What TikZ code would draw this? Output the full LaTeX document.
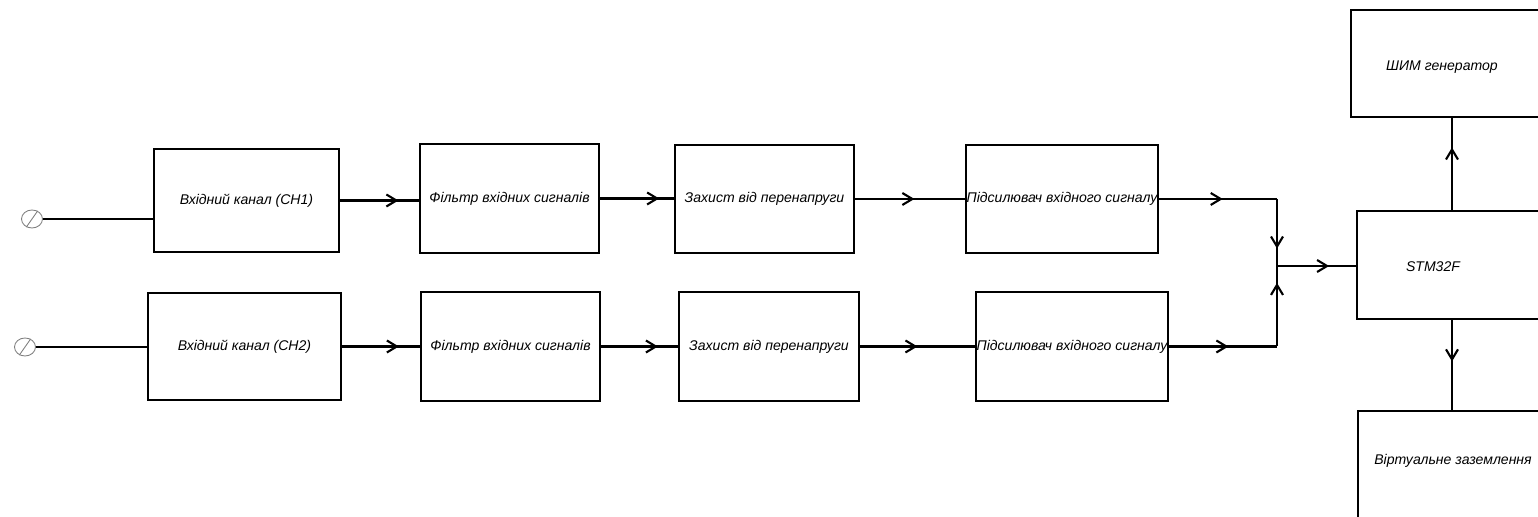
\documentclass[tikz,border=0pt]{standalone}
\usepackage{fontspec}
\setmainfont{Liberation Sans}
\usetikzlibrary{arrows.meta,decorations.markings,shapes.geometric}

\tikzset{
  blok/.style={draw, line width=1.2pt, inner sep=0pt, font=\itshape\fontsize{8}{9.6}\selectfont},
  napys/.style={font=\itshape\fontsize{8}{9.6}\selectfont},
  wire/.style={line width=1.2pt},
  flow/.style={line width=1.2pt, postaction={decorate},
    decoration={markings, mark=at position #1 with {\arrow{Straight Barb[length=2mm,width=2.4mm,line width=1.2pt]}}}},
  flow/.default=0.75,
  klema/.style={ellipse, draw=gray, line width=0.5pt, minimum width=0.42cm, minimum height=0.36cm, inner sep=0pt}
}

\begin{document}
\begin{tikzpicture}
  \useasboundingbox (0,0) rectangle (30.76,10.34);

  % входи
  \node[klema] (in1) at (0.64,5.96) {};
  \draw[gray, line width=0.5pt] (in1.235) -- (in1.55);
  \node[klema] (in2) at (0.50,3.40) {};
  \draw[gray, line width=0.5pt] (in2.235) -- (in2.55);

  % канал 1
  \node[blok, minimum width=3.70cm, minimum height=2.06cm] (ch1) at (4.93,6.33) {Вхідний канал (CH1)};
  \node[blok, minimum width=3.58cm, minimum height=2.18cm] (flt1) at (10.19,6.37) {Фільтр вхідних сигналів};
  \node[blok, minimum width=3.58cm, minimum height=2.16cm] (prt1) at (15.29,6.36) {Захист від перенапруги};
  \node[blok, minimum width=3.84cm, minimum height=2.16cm] (amp1) at (21.24,6.36) {\makebox[3.6cm]{Підсилювач вхідного сигналу}};

  % канал 2
  \node[blok, minimum width=3.86cm, minimum height=2.14cm] (ch2) at (4.89,3.41) {Вхідний канал (CH2)};
  \node[blok, minimum width=3.58cm, minimum height=2.18cm] (flt2) at (10.21,3.41) {Фільтр вхідних сигналів};
  \node[blok, minimum width=3.60cm, minimum height=2.18cm] (prt2) at (15.38,3.41) {Захист від перенапруги};
  \node[blok, minimum width=3.84cm, minimum height=2.18cm] (amp2) at (21.44,3.41) {\makebox[3.6cm]{Підсилювач вхідного сигналу}};

  % мікроконтролер і вихідні блоки
  \node[blok, minimum width=4.04cm, minimum height=2.14cm] (pwm) at (29.04,9.07) {};
  \node[napys] (pwm-t) at (28.84,9.00) {ШИМ генератор};
  \node[blok, minimum width=3.80cm, minimum height=2.16cm] (stm) at (29.04,5.04) {};
  \node[napys] (stm-t) at (28.66,5.00) {STM32F};
  \node[blok, minimum width=4.00cm, minimum height=2.22cm] (vg) at (29.16,1.01) {};
  \node[napys] (vg-t) at (29.06,1.12) {Віртуальне заземлення};

  \coordinate (jn) at (25.54,5.02);

  % з'єднання
  \draw[wire] (in1.east) -- (in1 -| ch1.west);
  \draw[wire] (in2.east) -- (in2 -| ch2.west);

  \draw[flow=0.74] (ch1.east) -- (ch1.east -| flt1.west);
  \draw[flow=0.80] (flt1.east) -- (flt1.east -| prt1.west);
  \draw[flow=0.54] (prt1.east) -- (prt1.east -| amp1.west);
  \draw[flow=0.73] (ch2.east) -- (ch2.east -| flt2.west);
  \draw[flow=0.74] (flt2.east) -- (flt2.east -| prt2.west);
  \draw[flow=0.50] (prt2.east) -- (prt2.east -| amp2.west);

  \draw[flow=0.54] (amp1.east) -- (amp1.east -| jn);
  \draw[flow=0.74] (amp1.east -| jn) -- (jn);
  \draw[flow=0.55] (amp2.east) -- (amp2.east -| jn);
  \draw[flow=0.79] (amp2.east -| jn) -- (jn);
  \draw[flow=0.66] (jn) -- (jn -| stm.west);

  \draw[flow=0.68] (stm.north) -- (pwm.south);
  \draw[flow=0.46] (stm.south) -- (stm.south |- vg.north);
\end{tikzpicture}
\end{document}
